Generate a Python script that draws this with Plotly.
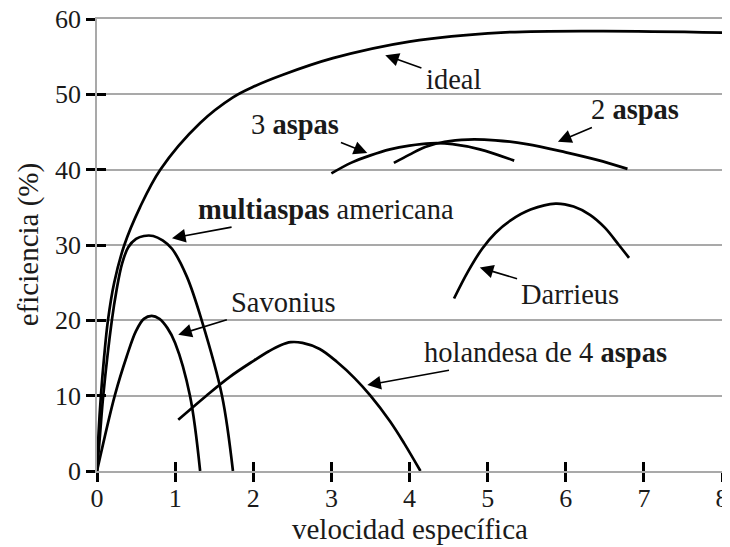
import plotly.graph_objects as go

# ---- data ----
ideal_x = [0, 0.02, 0.05, 0.09, 0.14, 0.22, 0.35, 0.55, 0.81, 1.32, 1.74, 2.0, 2.38, 3.02, 4.0, 5.17, 6.45, 8.0]
ideal_y = [0, 5, 10, 15, 20, 25, 30, 35, 40, 46.2, 49.6, 51.0, 52.6, 54.8, 57, 58.2, 58.4, 58.2]

multi_x = [0, 0.04, 0.08, 0.19, 0.25, 0.32, 0.40, 0.50, 0.60, 0.72, 0.84, 0.96, 1.15, 1.34, 1.60, 1.74]
multi_y = [0, 5, 10, 20, 24, 27.5, 29.7, 30.8, 31.2, 31.2, 30.6, 29.5, 25.8, 20, 10, 0]

savonius_x = [0, 0.23, 0.38, 0.50, 0.60, 0.70, 0.80, 0.90, 1.0, 1.19, 1.32]
savonius_y = [0, 10.1, 15.2, 18.6, 20.2, 20.6, 20.2, 19.0, 17.0, 10, 0]

holandesa_x = [1.04, 1.4, 1.7, 2.0, 2.2, 2.35, 2.48, 2.63, 2.85, 3.07, 3.3, 3.5, 3.75, 3.93, 4.14]
holandesa_y = [6.8, 10.0, 12.5, 14.6, 15.9, 16.7, 17.1, 17.0, 16.2, 14.5, 12.3, 10.0, 6.6, 3.7, 0]

tres_x = [3.0, 3.25, 3.5, 3.75, 4.0, 4.27, 4.55, 4.9, 5.34]
tres_y = [39.5, 40.9, 41.9, 42.7, 43.2, 43.5, 43.4, 42.7, 41.2]

dos_x = [3.8, 4.0, 4.2, 4.45, 4.75, 5.1, 5.5, 6.0, 6.4, 6.79]
dos_y = [40.9, 42.0, 43.0, 43.7, 44.0, 43.9, 43.4, 42.3, 41.3, 40.1]

darrieus_x = [4.57, 4.75, 4.93, 5.1, 5.3, 5.55, 5.87, 6.1, 6.31, 6.5, 6.68, 6.81]
darrieus_y = [22.9, 26.5, 29.5, 31.6, 33.3, 34.7, 35.5, 35.1, 34.0, 32.3, 30.0, 28.3]

x_ticks = [0, 1, 2, 3, 4, 5, 6, 7, 8]
y_ticks = [0, 10, 20, 30, 40, 50, 60]

labels = ["ideal", "2 <b>aspas</b>", "3 <b>aspas</b>", "<b>multiaspas</b> americana",
          "Savonius", "Darrieus", "holandesa de 4 <b>aspas</b>"]
x_title = "velocidad específica"
y_title = "eficiencia (%)"

# ---- figure ----
FONT = "Liberation Serif, Times New Roman, serif"
TXT = "#1a1a1a"
fig = go.Figure()
series = [(ideal_x, ideal_y), (multi_x, multi_y), (savonius_x, savonius_y),
          (holandesa_x, holandesa_y), (tres_x, tres_y), (dos_x, dos_y),
          (darrieus_x, darrieus_y)]
for xs, ys in series:
    fig.add_trace(go.Scatter(x=xs, y=ys, mode="lines",
                             line=dict(color="black", width=2.7, shape="spline", smoothing=1.0),
                             showlegend=False, hoverinfo="skip"))
# invisible trace for the inner-tick overlay axes
fig.add_trace(go.Scatter(x=[0], y=[0], xaxis="x2", yaxis="y2", mode="markers",
                         marker=dict(opacity=0), showlegend=False, hoverinfo="skip"))

# annotation: (head x, head y, text x, text y)
ann_pos = [(3.69, 55.2, 4.56, 52.0),
           (5.90, 43.7, 6.89, 48.0),
           (3.46, 42.2, 2.54, 46.0),
           (0.96, 30.9, 2.93, 34.7),
           (1.04, 18.1, 2.39, 22.4),
           (4.90, 27.0, 6.06, 23.4),
           (3.46, 11.4, 5.74, 15.7)]
for lab, (hx, hy, tx, ty) in zip(labels, ann_pos):
    fig.add_annotation(x=hx, y=hy, ax=tx, ay=ty, xref="x", yref="y", axref="x", ayref="y",
                       text=lab, showarrow=True, arrowhead=2, arrowsize=1.7, arrowwidth=1.6,
                       arrowcolor="black", standoff=0, startstandoff=3,
                       font=dict(family=FONT, size=28.5, color=TXT))

# axis titles
fig.add_annotation(text=x_title, xref="paper", yref="paper", x=0.5, y=-0.088,
                   yanchor="top", showarrow=False, font=dict(family=FONT, size=29, color=TXT))
fig.add_annotation(text=y_title, xref="paper", yref="paper", x=-0.11, y=0.5,
                   xanchor="center", yanchor="middle", textangle=-90, showarrow=False,
                   font=dict(family=FONT, size=29, color=TXT))

grid = "#a9a9a9"
common = dict(showline=True, linecolor=grid, linewidth=1.5, tickcolor="black",
              tickwidth=2.5, ticklen=9, zeroline=False, automargin=False,
              ticklabeloverflow="allow")
# the page body has an 8 px margin, so the figure is 8 px smaller than the window
fig.update_layout(
    width=722, height=539,
    margin=dict(l=89, r=8, t=11, b=76),
    paper_bgcolor="white", plot_bgcolor="white",
    font=dict(family=FONT, size=26, color=TXT),
    xaxis=dict(range=[0, 8], tickvals=x_ticks, ticks="outside", showgrid=False,
               mirror=True, tickfont=dict(size=26), ticklabelstandoff=-6, **common),
    yaxis=dict(range=[0, 60], tickvals=y_ticks, ticks="outside", showgrid=True,
               gridcolor=grid, gridwidth=1.5, mirror=True, tickfont=dict(size=26),
               **common),
    xaxis2=dict(range=[0, 8], tickvals=x_ticks, ticks="inside", overlaying="x",
                anchor="y2", showticklabels=False, showgrid=False, showline=False,
                tickcolor="black", tickwidth=2.5, ticklen=9, zeroline=False),
    yaxis2=dict(range=[0, 60], tickvals=y_ticks, ticks="inside", overlaying="y",
                anchor="x2", showticklabels=False, showgrid=False, showline=False,
                tickcolor="black", tickwidth=2.5, ticklen=9, zeroline=False),
)
fig.write_html("out.html")
